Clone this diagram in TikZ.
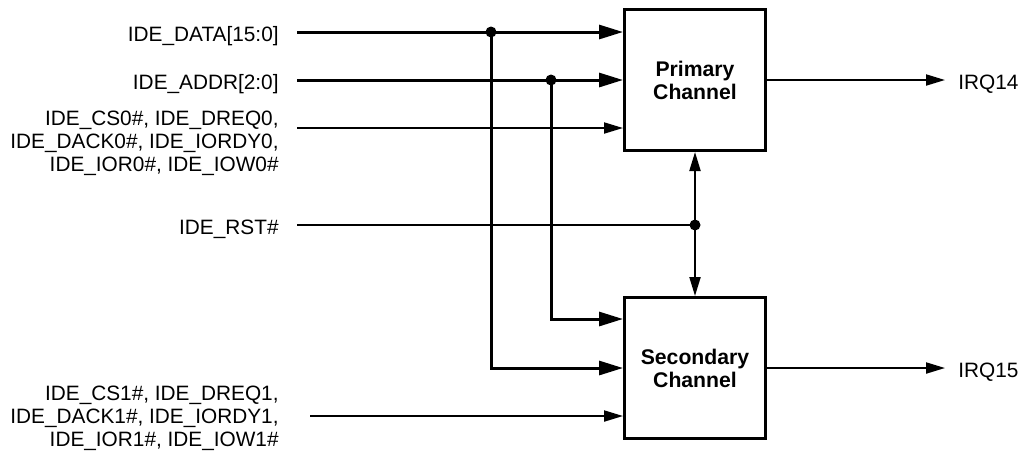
\documentclass[tikz,border=0pt]{standalone}
\usepackage{fontspec}
\setmainfont{Liberation Sans}
\usepackage{tikz}
\usetikzlibrary{arrows.meta,positioning}

\tikzset{
chan/.style={draw, line width=1.5pt, minimum width=70.5pt, minimum height=70.5pt, inner sep=0pt, align=center, font=\fontsize{10.6}{11.5}\selectfont\bfseries},
sig/.style={inner sep=0pt, align=right, font=\fontsize{10.4}{11.5}\selectfont},
bus/.style={line width=1.5pt, -{Triangle[length=12pt,width=7pt]}},
wire/.style={line width=1pt, -{Triangle[length=9.5pt,width=5.5pt]}},
dot/.style={circle, fill, inner sep=0pt, minimum size=5.5pt}
}

\begin{document}
\begin{tikzpicture}[x=0.5pt,y=-0.5pt]

\useasboundingbox (0,0) rectangle (1020,452);

\begin{scope}

\node[chan] (prim) at (695,80) {Primary\\Channel};
\node[chan] (sec) at (695,368) {Secondary\\Channel};

\coordinate (data) at (297,32);
\coordinate (addr) at (297,80);
\coordinate (cs0) at (297,128);
\coordinate (rst) at (297,225);
\coordinate (cs1) at (310,416);

\coordinate (jdata) at (491,32);
\coordinate (jaddr) at (551,80);
\coordinate (jrst) at (695,225);

\foreach \s/\txt in {data/IDE\_DATA[15:0], addr/IDE\_ADDR[2:0], rst/IDE\_RST\#}
\node[sig, anchor=base east] (l\s) at ([shift={(-18,9.5)}]\s) {\txt};

\node[sig, anchor=east] (lcs0) at ([shift={(-18,15.5)}]cs0) {IDE\_CS0\#, IDE\_DREQ0,\\IDE\_DACK0\#, IDE\_IORDY0,\\IDE\_IOR0\#, IDE\_IOW0\#};
\node[sig, anchor=east] (lcs1) at ([shift={(-31,2.5)}]cs1) {IDE\_CS1\#, IDE\_DREQ1,\\IDE\_DACK1\#, IDE\_IORDY1,\\IDE\_IOR1\#, IDE\_IOW1\#};

% primary inputs
\draw[bus] (data) -- (data -| prim.west);
\draw[bus] (addr) -- (addr -| prim.west);
\draw[wire] (cs0) -- (cs0 -| prim.west);

% secondary inputs
\draw[bus] (jdata) |- (sec.west);
\draw[bus] (jaddr) |- ([yshift=24.5pt]sec.west);
\draw[wire] (cs1) -- (cs1 -| sec.west);

% reset
\draw[line width=1pt] (rst) -- (jrst);
\draw[wire] (jrst) -- (prim.south);
\draw[wire] (jrst) -- (sec.north);

\foreach \j in {jdata,jaddr,jrst}
\node[dot] at (\j) {};

% outputs
\foreach \c/\n in {prim/14, sec/15} {
\coordinate (irq\n) at (945,0 |- \c.east);
\draw[wire] (\c.east) -- (irq\n);
\node[sig, anchor=base west] (lirq\n) at ([shift={(13,9.5)}]irq\n) {IRQ\n};
}

\end{scope}

\end{tikzpicture}
\end{document}
